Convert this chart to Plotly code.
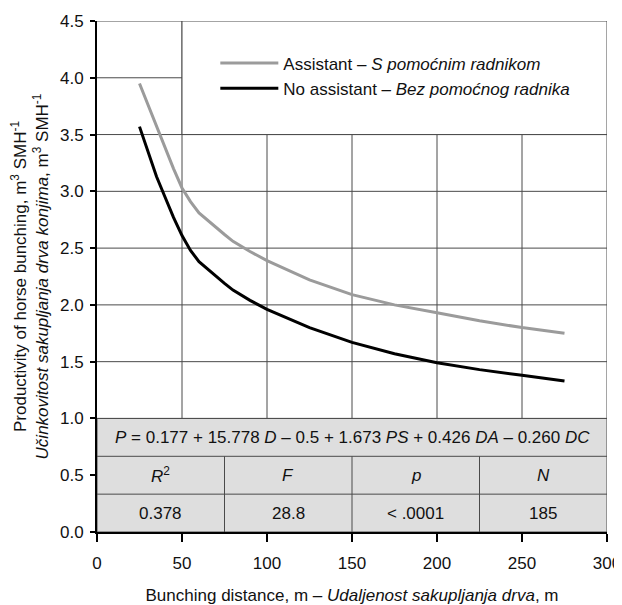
import plotly.graph_objects as go

# ---- data ----
distance = [25, 30, 35, 40, 45, 50, 55, 60, 70, 75, 80, 90, 100, 125, 150, 175, 200, 225, 250, 275]
assistant = [3.95, 3.76, 3.57, 3.38, 3.20, 3.03, 2.91, 2.81, 2.68, 2.62, 2.56, 2.47, 2.39, 2.22, 2.09, 2.00, 1.93, 1.86, 1.80, 1.75]
no_assistant = [3.57, 3.35, 3.13, 2.95, 2.77, 2.61, 2.48, 2.38, 2.25, 2.19, 2.13, 2.04, 1.96, 1.80, 1.67, 1.57, 1.49, 1.43, 1.38, 1.33]

x_ticks = [0, 50, 100, 150, 200, 250, 300]
y_ticks = [0.0, 0.5, 1.0, 1.5, 2.0, 2.5, 3.0, 3.5, 4.0, 4.5]
y_tick_labels = ["0.0", "0.5", "1.0", "1.5", "2.0", "2.5", "3.0", "3.5", "4.0", "4.5"]

series_names = ["Assistant – <i>S pomoćnim radnikom</i>",
                "No assistant – <i>Bez pomoćnog radnika</i>"]

equation = ("<i>P</i> = 0.177 + 15.778 <i>D</i> – 0.5 + 1.673 <i>PS</i> + "
            "0.426 <i>DA</i> – 0.260 <i>DC</i>")
stat_headers = ["<i>R</i><sup>2</sup>", "<i>F</i>", "<i>p</i>", "<i>N</i>"]
stat_values = ["0.378", "28.8", "< .0001", "185"]

# ---- styling ----
FONT = "Liberation Sans, Arial, sans-serif"
GRID = "#4a4a4a"
TABLE_FILL = "#dedede"
X_MAX = x_ticks[-1]
Y_MAX = y_ticks[-1]

fig = go.Figure()
fig.add_trace(go.Scatter(x=distance, y=assistant, mode="lines", name=series_names[0],
                         line=dict(color="#9b9b9b", width=3)))
fig.add_trace(go.Scatter(x=distance, y=no_assistant, mode="lines", name=series_names[1],
                         line=dict(color="#000000", width=3)))

shapes = []
# grid
for xv in x_ticks[1:]:
    shapes.append(dict(type="line", xref="x", yref="y", x0=xv, x1=xv, y0=1.0, y1=Y_MAX,
                       line=dict(color=GRID, width=1), layer="below"))
for yv in y_ticks[2:]:
    shapes.append(dict(type="line", xref="x", yref="y", x0=0, x1=X_MAX, y0=yv, y1=yv,
                       line=dict(color=GRID, width=1), layer="below"))
# legend box
shapes.append(dict(type="rect", xref="x", yref="y", x0=50, x1=X_MAX, y0=3.5, y1=Y_MAX,
                   fillcolor="white", line=dict(color=GRID, width=1), layer="below"))
# table
shapes.append(dict(type="rect", xref="x", yref="y", x0=0, x1=X_MAX, y0=0, y1=1.0,
                   fillcolor=TABLE_FILL, line=dict(color=GRID, width=1), layer="below"))
for yv in [1 / 3, 2 / 3]:
    shapes.append(dict(type="line", xref="x", yref="y", x0=0, x1=X_MAX, y0=yv, y1=yv,
                       line=dict(color=GRID, width=1), layer="below"))
ncol = len(stat_headers)
colw = X_MAX / ncol
for i in range(1, ncol):
    shapes.append(dict(type="line", xref="x", yref="y", x0=i * colw, x1=i * colw, y0=0, y1=2 / 3,
                       line=dict(color=GRID, width=1), layer="below"))

annotations = [dict(x=X_MAX / 2, y=5 / 6, xref="x", yref="y", text=equation, showarrow=False,
                    font=dict(size=17, color="#111"))]
for i in range(ncol):
    annotations.append(dict(x=(i + 0.5) * colw, y=0.5, xref="x", yref="y", text=stat_headers[i],
                            showarrow=False, font=dict(size=17, color="#111")))
    annotations.append(dict(x=(i + 0.5) * colw, y=1 / 6, xref="x", yref="y", text=stat_values[i],
                            showarrow=False, font=dict(size=17, color="#111")))

# the page body has an 8px margin, so the figure is sized/offset to compensate
fig.update_layout(
    width=614, height=597,
    margin=dict(l=89, r=15, t=13, b=73),
    paper_bgcolor="white", plot_bgcolor="white",
    font=dict(family=FONT, size=17, color="#111"),
    showlegend=True,
    legend=dict(x=0.232, y=0.952, xanchor="left", yanchor="top", bgcolor="rgba(0,0,0,0)",
                font=dict(size=17), itemwidth=58, tracegroupgap=0),
    shapes=shapes,
    annotations=annotations,
    xaxis=dict(range=[0, X_MAX], tickvals=x_ticks, showgrid=False, zeroline=False,
               showline=True, linecolor="black", linewidth=2, ticks="outside", ticklen=8,
               tickwidth=1.5, tickcolor="black", ticklabelstandoff=7, automargin=False,
               title=dict(text="Bunching distance, m – <i>Udaljenost sakupljanja drva</i>, m",
                          font=dict(size=17), standoff=17)),
    yaxis=dict(range=[0, Y_MAX], tickvals=y_ticks, ticktext=y_tick_labels, showgrid=False,
               zeroline=False, showline=True, linecolor="black", linewidth=2, ticks="outside",
               ticklen=5, tickwidth=1.5, tickcolor="black", ticklabelstandoff=3, automargin=False,
               title=dict(text="Productivity of horse bunching, m<sup>3</sup> SMH<sup>-1</sup><br>"
                               "<i>Učinkovitost sakupljanja drva konjima</i>, m<sup>3</sup> SMH<sup>-1</sup>",
                          font=dict(size=17), standoff=8)),
)

fig.write_html("out.html")
